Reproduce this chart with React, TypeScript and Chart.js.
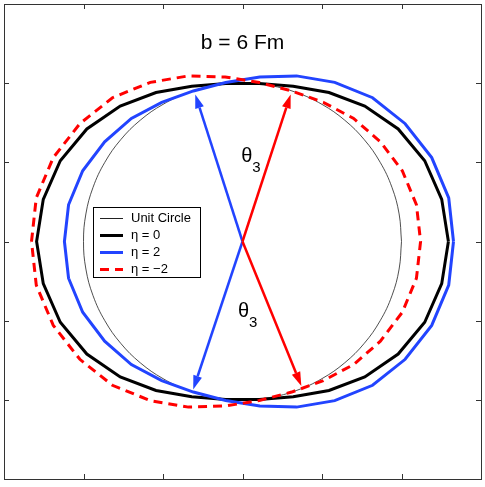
import React, { useEffect, useRef } from "react";
import { Chart, registerables } from "chart.js";

Chart.register(...registerables);

// Tick positions (no labels in the reference)
const tickValues = [-1, -0.5, 0, 0.5, 1];
const axisMin = -1.5;
const axisMax = 1.5;

// Unit circle
const unitX = [1, 0.985, 0.94, 0.866, 0.766, 0.643, 0.5, 0.342, 0.174, 0, -0.174, -0.342, -0.5, -0.643, -0.766, -0.866, -0.94, -0.985, -1, -0.985, -0.94, -0.866, -0.766, -0.643, -0.5, -0.342, -0.174, 0, 0.174, 0.342, 0.5, 0.643, 0.766, 0.866, 0.94, 0.985, 1];
const unitY = [0, 0.174, 0.342, 0.5, 0.643, 0.766, 0.866, 0.94, 0.985, 1, 0.985, 0.94, 0.866, 0.766, 0.643, 0.5, 0.342, 0.174, 0, -0.174, -0.342, -0.5, -0.643, -0.766, -0.866, -0.94, -0.985, -1, -0.985, -0.94, -0.866, -0.766, -0.643, -0.5, -0.342, -0.174, 0];

// eta = 0
const eta0X = [1.295, 1.253, 1.146, 0.979, 0.769, 0.544, 0.319, 0.105, -0.105, -0.319, -0.544, -0.769, -0.979, -1.146, -1.253, -1.295, -1.253, -1.146, -0.979, -0.769, -0.544, -0.319, -0.105, 0.105, 0.319, 0.544, 0.769, 0.979, 1.146, 1.253, 1.295];
const eta0Y = [0, 0.266, 0.51, 0.711, 0.855, 0.941, 0.981, 0.998, 0.998, 0.981, 0.941, 0.855, 0.711, 0.51, 0.266, 0, -0.266, -0.51, -0.711, -0.855, -0.941, -0.981, -0.998, -0.998, -0.981, -0.941, -0.855, -0.711, -0.51, -0.266, 0];

// eta = 2
const eta2X = [1.327, 1.297, 1.19, 1.023, 0.818, 0.58, 0.34, 0.109, -0.106, -0.309, -0.508, -0.699, -0.867, -1.005, -1.094, -1.12, -1.094, -1.005, -0.867, -0.699, -0.508, -0.309, -0.106, 0.109, 0.34, 0.58, 0.818, 1.023, 1.19, 1.297, 1.327];
const eta2Y = [0, 0.276, 0.53, 0.744, 0.908, 1.005, 1.046, 1.039, 1.004, 0.951, 0.879, 0.777, 0.63, 0.447, 0.232, 0, -0.232, -0.447, -0.63, -0.777, -0.879, -0.951, -1.004, -1.039, -1.046, -1.005, -0.908, -0.744, -0.53, -0.276, 0];

// eta = -2
const etaM2X = [-1.327, -1.297, -1.19, -1.023, -0.818, -0.58, -0.34, -0.109, 0.106, 0.309, 0.508, 0.699, 0.867, 1.005, 1.094, 1.12, 1.094, 1.005, 0.867, 0.699, 0.508, 0.309, 0.106, -0.109, -0.34, -0.58, -0.818, -1.023, -1.19, -1.297, -1.327];
const etaM2Y = [0, 0.276, 0.53, 0.744, 0.908, 1.005, 1.046, 1.039, 1.004, 0.951, 0.879, 0.777, 0.63, 0.447, 0.232, 0, -0.232, -0.447, -0.63, -0.777, -0.879, -0.951, -1.004, -1.039, -1.046, -1.005, -0.908, -0.744, -0.53, -0.276, 0];

// Arrows from the origin to these tips
const arrowTipX = [-0.297, -0.31, 0.303, 0.37];
const arrowTipY = [0.929, -0.935, 0.929, -0.912];
const arrowSeries = ["blue", "blue", "red", "red"];

// Text annotations
const titleText = "b = 6 Fm";
const titlePos = { x: 0, y: 1.25 };
const thetaLabelX = [0.03, 0.01];
const thetaLabelY = [0.537, -0.445];

const legendLabels = ["Unit Circle", "η = 0", "η = 2", "η = −2"];

const BLUE = "#2244ff";
const RED = "#ff0000";
const FONT = "'Liberation Sans', Arial, Helvetica, sans-serif";

const toPts = (xs: number[], ys: number[]) => xs.map((x, i) => ({ x, y: ys[i] }));

const overlayPlugin = {
  id: "overlay",
  afterDatasetsDraw(chart: any) {
    const { ctx, chartArea, scales } = chart;
    const xs = scales.x;
    const ys = scales.y;
    const px = (v: number) => xs.getPixelForValue(v);
    const py = (v: number) => ys.getPixelForValue(v);
    ctx.save();

    // arrows
    const ox = px(0);
    const oy = py(0);
    arrowTipX.forEach((tx, i) => {
      const color = arrowSeries[i] === "blue" ? BLUE : RED;
      const x1 = px(tx);
      const y1 = py(arrowTipY[i]);
      const ang = Math.atan2(y1 - oy, x1 - ox);
      const L = 14;
      const W = 4.5;
      const bx = x1 - L * Math.cos(ang);
      const by = y1 - L * Math.sin(ang);
      ctx.strokeStyle = color;
      ctx.lineWidth = 2.5;
      ctx.setLineDash([]);
      ctx.beginPath();
      ctx.moveTo(ox, oy);
      ctx.lineTo(bx, by);
      ctx.stroke();
      ctx.fillStyle = color;
      ctx.beginPath();
      ctx.moveTo(x1, y1);
      ctx.lineTo(bx + W * Math.sin(ang), by - W * Math.cos(ang));
      ctx.lineTo(bx - W * Math.sin(ang), by + W * Math.cos(ang));
      ctx.closePath();
      ctx.fill();
    });

    // title text inside the axes
    ctx.fillStyle = "#000";
    ctx.textAlign = "center";
    ctx.textBaseline = "middle";
    ctx.font = `21px ${FONT}`;
    ctx.fillText(titleText, px(titlePos.x), py(titlePos.y));

    // theta_3 labels
    thetaLabelX.forEach((lx, i) => {
      const cx = px(lx);
      const cy = py(thetaLabelY[i]);
      ctx.textAlign = "right";
      ctx.font = `20px ${FONT}`;
      ctx.fillText("θ", cx + 5, cy);
      ctx.textAlign = "left";
      ctx.font = `15px ${FONT}`;
      ctx.fillText("3", cx + 5, cy + 11);
    });

    // legend
    const lx = chartArea.left + 89;
    const ly = chartArea.top + 203;
    const lw = 107;
    const lh = 70;
    ctx.fillStyle = "#fff";
    ctx.fillRect(lx, ly, lw, lh);
    ctx.strokeStyle = "#000";
    ctx.lineWidth = 1;
    ctx.setLineDash([]);
    ctx.strokeRect(lx + 0.5, ly + 0.5, lw, lh);
    const ds = chart.data.datasets;
    legendLabels.forEach((lab, i) => {
      const d = ds[i];
      const rowY = ly + 11.5 + i * 17;
      ctx.strokeStyle = d.borderColor;
      ctx.lineWidth = i === 0 ? 1 : d.borderWidth;
      ctx.setLineDash(d.borderDash || []);
      ctx.beginPath();
      ctx.moveTo(lx + 7, rowY);
      ctx.lineTo(lx + 30, rowY);
      ctx.stroke();
      ctx.setLineDash([]);
      ctx.fillStyle = "#000";
      ctx.textAlign = "left";
      ctx.textBaseline = "middle";
      ctx.font = `13px ${FONT}`;
      ctx.fillText(lab, lx + 38, rowY);
    });

    // frame
    const { left, right, top, bottom } = chartArea;
    ctx.strokeStyle = "#333";
    ctx.lineWidth = 1;
    ctx.strokeRect(left + 0.5, top + 0.5, right - left, bottom - top);
    // inward ticks on all four sides
    const T = 5;
    ctx.beginPath();
    tickValues.forEach((v) => {
      const X = Math.round(px(v)) + 0.5;
      ctx.moveTo(X, bottom);
      ctx.lineTo(X, bottom - T);
      ctx.moveTo(X, top);
      ctx.lineTo(X, top + T);
      const Y = Math.round(py(v)) + 0.5;
      ctx.moveTo(left, Y);
      ctx.lineTo(left + T, Y);
      ctx.moveTo(right, Y);
      ctx.lineTo(right - T, Y);
    });
    ctx.stroke();
    ctx.restore();
  },
};

export default function App() {
  const canvasRef = useRef<HTMLCanvasElement>(null);
  useEffect(() => {
    if (!canvasRef.current) return;
    const chart = new Chart(canvasRef.current, {
      type: "scatter",
      data: {
        datasets: [
          {
            label: legendLabels[0],
            data: toPts(unitX, unitY),
            showLine: true,
            borderColor: "#222",
            borderWidth: 0.8,
            pointRadius: 0,
            tension: 0.4,
            order: 4,
          },
          {
            label: legendLabels[1],
            data: toPts(eta0X, eta0Y),
            showLine: true,
            borderColor: "#000",
            borderWidth: 3,
            pointRadius: 0,
            tension: 0,
            order: 3,
          },
          {
            label: legendLabels[2],
            data: toPts(eta2X, eta2Y),
            showLine: true,
            borderColor: BLUE,
            borderWidth: 3,
            pointRadius: 0,
            tension: 0,
            order: 2,
          },
          {
            label: legendLabels[3],
            data: toPts(etaM2X, etaM2Y),
            showLine: true,
            borderColor: RED,
            borderWidth: 3,
            borderDash: [9, 6],
            pointRadius: 0,
            tension: 0,
            order: 1,
          },
        ],
      },
      options: {
        animation: false,
        responsive: true,
        maintainAspectRatio: false,
        layout: { padding: { left: 4, right: 4, top: 4, bottom: 8 } },
        plugins: { legend: { display: false }, tooltip: { enabled: false }, title: { display: false } },
        scales: {
          x: { type: "linear", min: axisMin, max: axisMax, display: false },
          y: { type: "linear", min: axisMin, max: axisMax, display: false },
        },
      },
      plugins: [overlayPlugin],
    });
    return () => chart.destroy();
  }, []);
  return (
    <div style={{ position: "fixed", left: 0, top: 0, width: 485, height: 487, background: "#fff" }}>
      <canvas ref={canvasRef} />
    </div>
  );
}
